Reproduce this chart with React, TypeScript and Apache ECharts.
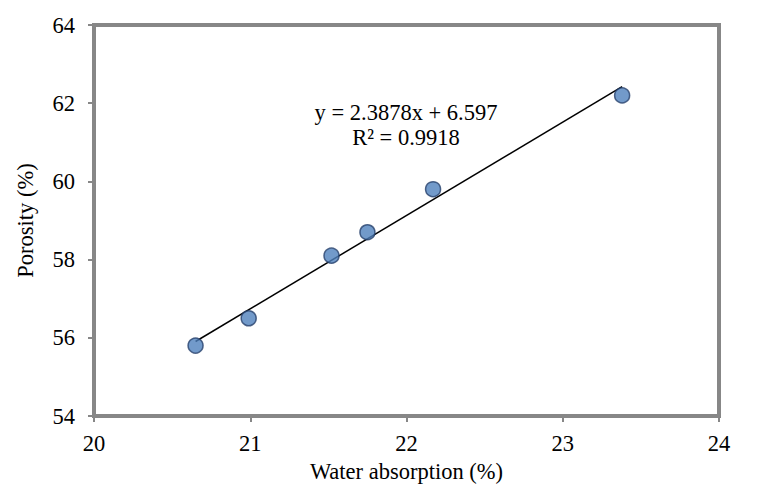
import React, { useEffect, useRef } from "react";
import * as echarts from "echarts";

const waterAbsorption = [20.65, 20.99, 21.52, 21.75, 22.17, 23.38];
const porosity = [55.8, 56.5, 58.1, 58.7, 59.8, 62.2];
const slope = 2.3878;
const intercept = 6.597;
const rSquared = 0.9918;
const xTicks = [20, 21, 22, 23, 24];
const yTicks = [54, 56, 58, 60, 62, 64];

export default function App() {
  const ref = useRef<HTMLDivElement>(null);
  useEffect(() => {
    if (!ref.current) return;
    const chart = echarts.init(ref.current, null, { renderer: "svg" });
    const xMin = Math.min(...waterAbsorption);
    const xMax = Math.max(...waterAbsorption);
    const trend = [
      [xMin, slope * xMin + intercept],
      [xMax, slope * xMax + intercept],
    ];
    const font = "'Liberation Serif', 'DejaVu Serif', serif";
    const fs = 22.5;
    const gray = "#878787";
    chart.setOption({
      animation: false,
      backgroundColor: "#ffffff",
      textStyle: { fontFamily: font },
      grid: {
        left: 94,
        top: 25,
        width: 625,
        height: 391,
        show: true,
        borderColor: gray,
        borderWidth: 4,
        backgroundColor: "transparent",
      },
      xAxis: {
        type: "value",
        min: xTicks[0],
        max: xTicks[xTicks.length - 1],
        interval: 1,
        name: "Water absorption (%)",
        nameLocation: "middle",
        nameGap: 44,
        nameTextStyle: { fontFamily: font, fontSize: fs, color: "#000" },
        axisLine: { show: false },
        axisTick: { show: true, length: 6, lineStyle: { color: gray, width: 2 } },
        axisLabel: { margin: 16, fontFamily: font, fontSize: fs, color: "#000" },
        splitLine: { show: false },
      },
      yAxis: {
        type: "value",
        min: yTicks[0],
        max: yTicks[yTicks.length - 1],
        interval: 2,
        name: "Porosity (%)",
        nameLocation: "middle",
        nameGap: 57,
        nameTextStyle: { fontFamily: font, fontSize: fs, color: "#000" },
        axisLine: { show: false },
        axisTick: { show: true, length: 6, lineStyle: { color: gray, width: 2 } },
        axisLabel: { margin: 19, fontFamily: font, fontSize: fs, color: "#000" },
        splitLine: { show: false },
      },
      series: [
        {
          type: "line",
          data: trend,
          showSymbol: false,
          symbol: "none",
          lineStyle: { color: "#000", width: 1.5 },
          z: 2,
        },
        {
          type: "scatter",
          data: waterAbsorption.map((x, i) => [x, porosity[i]]),
          symbol: "circle",
          symbolSize: 15,
          itemStyle: { color: "#4F81BD", borderColor: "#25406B", borderWidth: 1.5 },
          z: 3,
        },
      ],
      graphic: [
        {
          type: "text",
          x: 406,
          y: 112,
          style: {
            text: `y = ${slope}x + ${intercept}`,
            fontFamily: font,
            fontSize: fs,
            fill: "#000",
            textAlign: "center",
            textVerticalAlign: "middle",
          },
        },
        {
          type: "text",
          x: 406,
          y: 137,
          style: {
            text: `R² = ${rSquared}`,
            fontFamily: font,
            fontSize: fs,
            fill: "#000",
            textAlign: "center",
            textVerticalAlign: "middle",
          },
        },
      ],
    });
    return () => chart.dispose();
  }, []);
  return (
    <div
      ref={ref}
      style={{ position: "absolute", left: 0, top: 0, width: 757, height: 493 }}
    />
  );
}
